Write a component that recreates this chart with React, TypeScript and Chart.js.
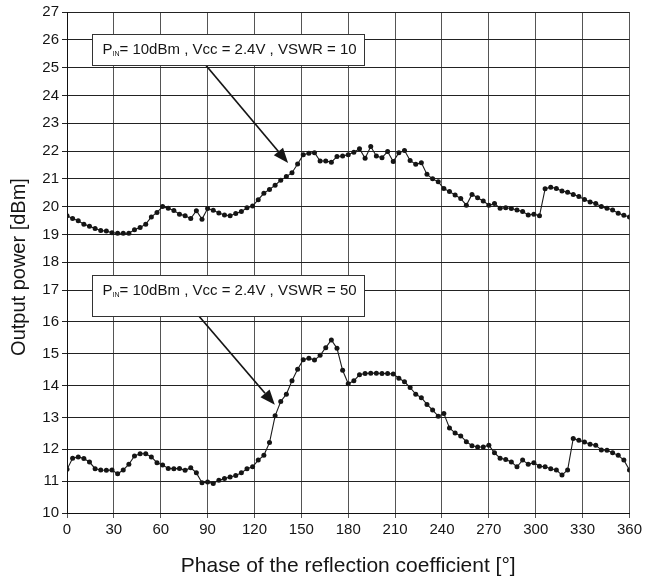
import React, { useEffect, useRef } from 'react';
import { Chart, registerables } from 'chart.js';

Chart.register(...registerables);

// Phase of the reflection coefficient [°]
const phaseDeg: number[] = [
  0, 3.6, 7.2, 10.8, 14.4, 18, 21.6, 25.2, 28.8, 32.4, 36, 39.6, 43.2, 46.8, 50.4, 54, 57.6, 61.2, 64.8, 68.4,
  72, 75.6, 79.2, 82.8, 86.4, 90, 93.6, 97.2, 100.8, 104.4, 108, 111.6, 115.2, 118.8, 122.4, 126, 129.6, 133.2, 136.8, 140.4,
  144, 147.6, 151.2, 154.8, 158.4, 162, 165.6, 169.2, 172.8, 176.4, 180, 183.6, 187.2, 190.8, 194.4, 198, 201.6, 205.2, 208.8, 212.4,
  216, 219.6, 223.2, 226.8, 230.4, 234, 237.6, 241.2, 244.8, 248.4, 252, 255.6, 259.2, 262.8, 266.4, 270, 273.6, 277.2, 280.8, 284.4,
  288, 291.6, 295.2, 298.8, 302.4, 306, 309.6, 313.2, 316.8, 320.4, 324, 327.6, 331.2, 334.8, 338.4, 342, 345.6, 349.2, 352.8, 356.4,
  360,
];

// Output power [dBm], VSWR = 10
const outputVswr10: number[] = [
  19.67, 19.57, 19.49, 19.37, 19.29, 19.21, 19.14, 19.12, 19.06, 19.04, 19.04, 19.04, 19.17, 19.25, 19.37, 19.63, 19.79, 20.0, 19.94, 19.86,
  19.73, 19.67, 19.57, 19.85, 19.55, 19.93, 19.87, 19.77, 19.70, 19.67, 19.75, 19.82, 19.96, 20.02, 20.25, 20.48, 20.62, 20.77, 20.95, 21.08,
  21.22, 21.53, 21.87, 21.92, 21.94, 21.64, 21.64, 21.60, 21.80, 21.82, 21.87, 21.96, 22.08, 21.74, 22.16, 21.82, 21.76, 21.98, 21.62, 21.94,
  22.02, 21.66, 21.52, 21.58, 21.16, 21.0, 20.89, 20.65, 20.54, 20.42, 20.29, 20.05, 20.44, 20.32, 20.20, 20.05, 20.11, 19.94, 19.96, 19.93,
  19.88, 19.82, 19.70, 19.73, 19.67, 20.64, 20.70, 20.65, 20.56, 20.52, 20.44, 20.36, 20.26, 20.17, 20.11, 20.0, 19.94, 19.88, 19.76, 19.69,
  19.63,
];

// Output power [dBm], VSWR = 50
const outputVswr50: number[] = [
  11.37, 11.72, 11.76, 11.71, 11.60, 11.39, 11.35, 11.34, 11.35, 11.23, 11.35, 11.53, 11.79, 11.86, 11.86, 11.76, 11.58, 11.51, 11.40, 11.39,
  11.40, 11.34, 11.42, 11.26, 10.95, 10.97, 10.93, 11.03, 11.08, 11.13, 11.18, 11.26, 11.39, 11.45, 11.66, 11.81, 12.21, 13.05, 13.50, 13.73,
  14.15, 14.51, 14.81, 14.86, 14.80, 14.95, 15.19, 15.43, 15.17, 14.48, 14.06, 14.15, 14.34, 14.38, 14.39, 14.39, 14.38, 14.38, 14.36, 14.23,
  14.12, 13.94, 13.73, 13.62, 13.41, 13.23, 13.04, 13.12, 12.67, 12.51, 12.42, 12.24, 12.11, 12.07, 12.07, 12.13, 11.89, 11.72, 11.68, 11.60,
  11.45, 11.66, 11.53, 11.58, 11.47, 11.45, 11.39, 11.35, 11.19, 11.35, 12.34, 12.28, 12.23, 12.16, 12.13, 11.98, 11.97, 11.89, 11.81, 11.66,
  11.35,
];

const xTickValues: number[] = [0, 30, 60, 90, 120, 150, 180, 210, 240, 270, 300, 330, 360];
const yUpperRange: number[] = [17, 27];
const yLowerRange: number[] = [10, 17];

const xTitle = 'Phase of the reflection coefficient [°]';
const yTitle = 'Output power [dBm]';
const labelMain = 'P';
const labelSub = 'IN';
const labelRest: string[] = ['= 10dBm , Vcc = 2.4V , VSWR = 10', '= 10dBm , Vcc = 2.4V , VSWR = 50'];

const FONT = "'Liberation Sans', Arial, sans-serif";
const INK = '#151515';

// annotation anchors, in data units (x: degrees, y: dBm on the given axis)
const annotations = [
  { axis: 'yHigh', x0: 16, x1: 190.4, yTop: 26.22, yBot: 25.1, yText: 25.64, from: [88.6, 25.1], to: [141.5, 21.57], text: labelRest[0] },
  { axis: 'yLow', x0: 16, x1: 190.4, yTop: 17.46, yBot: 16.2, yText: 16.98, from: [84.1, 16.2], to: [133, 13.4], text: labelRest[1] },
];

const annotationPlugin = {
  id: 'boxesAndArrows',
  afterDatasetsDraw(chart: any) {
    const ctx: CanvasRenderingContext2D = chart.ctx;
    const xs = chart.scales.x;
    ctx.save();
    for (const a of annotations) {
      const ys = chart.scales[a.axis];
      const ax0 = xs.getPixelForValue(a.from[0]);
      const ay0 = ys.getPixelForValue(a.from[1]);
      const ax1 = xs.getPixelForValue(a.to[0]);
      const ay1 = ys.getPixelForValue(a.to[1]);
      const ang = Math.atan2(ay1 - ay0, ax1 - ax0);
      const headLen = 15;
      const headW = 6;
      const bx = ax1 - headLen * Math.cos(ang);
      const by = ay1 - headLen * Math.sin(ang);
      ctx.strokeStyle = INK;
      ctx.fillStyle = INK;
      ctx.lineWidth = 1.7;
      ctx.beginPath();
      ctx.moveTo(ax0, ay0);
      ctx.lineTo(bx, by);
      ctx.stroke();
      ctx.beginPath();
      ctx.moveTo(ax1, ay1);
      ctx.lineTo(bx + headW * Math.sin(ang), by - headW * Math.cos(ang));
      ctx.lineTo(bx - headW * Math.sin(ang), by + headW * Math.cos(ang));
      ctx.closePath();
      ctx.fill();

      const px0 = Math.round(xs.getPixelForValue(a.x0)) + 0.5;
      const px1 = Math.round(xs.getPixelForValue(a.x1)) + 0.5;
      const pyT = Math.round(ys.getPixelForValue(a.yTop)) + 0.5;
      const pyB = Math.round(ys.getPixelForValue(a.yBot)) + 0.5;
      ctx.fillStyle = '#ffffff';
      ctx.fillRect(px0, pyT, px1 - px0, pyB - pyT);
      ctx.strokeStyle = '#333333';
      ctx.lineWidth = 1;
      ctx.strokeRect(px0, pyT, px1 - px0, pyB - pyT);

      const ty = ys.getPixelForValue(a.yText);
      let tx = px0 + 10;
      ctx.fillStyle = INK;
      ctx.textBaseline = 'middle';
      ctx.textAlign = 'left';
      ctx.font = `15px ${FONT}`;
      ctx.fillText(labelMain, tx, ty);
      tx += ctx.measureText(labelMain).width;
      ctx.font = `7px ${FONT}`;
      ctx.fillText(labelSub, tx, ty + 4);
      tx += ctx.measureText(labelSub).width;
      ctx.font = `15px ${FONT}`;
      ctx.fillText(a.text, tx, ty);
    }
    ctx.restore();
  },
  afterDraw(chart: any) {
    const ctx: CanvasRenderingContext2D = chart.ctx;
    ctx.save();
    ctx.translate(19, 267);
    ctx.rotate(-Math.PI / 2);
    ctx.fillStyle = INK;
    ctx.font = `20px ${FONT}`;
    ctx.textAlign = 'center';
    ctx.textBaseline = 'middle';
    ctx.fillText(yTitle, 0, 0);
    ctx.restore();
  },
};

export default function App() {
  const canvasRef = useRef<HTMLCanvasElement | null>(null);

  useEffect(() => {
    if (!canvasRef.current) return;
    const lineStyle = {
      borderColor: '#1a1a1a',
      borderWidth: 1.1,
      pointRadius: 2.5,
      pointBorderWidth: 0,
      pointBackgroundColor: '#151515',
      pointHoverRadius: 2.5,
      tension: 0,
    };
    const chart = new Chart(canvasRef.current, {
      type: 'line',
      data: {
        datasets: [
          {
            label: 'VSWR = 10',
            data: phaseDeg.map((x, i) => ({ x, y: outputVswr10[i] })),
            yAxisID: 'yHigh',
            ...lineStyle,
          },
          {
            label: 'VSWR = 50',
            data: phaseDeg.map((x, i) => ({ x, y: outputVswr50[i] })),
            yAxisID: 'yLow',
            ...lineStyle,
          },
        ],
      },
      options: {
        responsive: false,
        animation: false,
        devicePixelRatio: 1,
        layout: { padding: { left: 0, right: 14, top: 12, bottom: 0 } },
        plugins: { legend: { display: false }, tooltip: { enabled: false } },
        scales: {
          x: {
            type: 'linear',
            min: xTickValues[0],
            max: xTickValues[xTickValues.length - 1],
            afterBuildTicks: (scale: any) => {
              scale.ticks = xTickValues.map((v) => ({ value: v }));
            },
            ticks: { color: INK, font: { family: FONT, size: 15 }, padding: 3, maxRotation: 0, autoSkip: false },
            grid: { color: '#555555', lineWidth: 1, tickLength: 5 },
            border: { color: '#111', width: 1 },
            title: { display: true, text: xTitle, color: INK, font: { family: FONT, size: 21 }, padding: { top: 0, bottom: 3 } },
            afterFit: (scale: any) => {
              scale.height = 69;
            },
          },
          yLow: {
            type: 'linear',
            position: 'left',
            stack: 'power',
            stackWeight: (yLowerRange[1] - yLowerRange[0]) * 31.85,
            min: yLowerRange[0],
            max: yLowerRange[1],
            ticks: { stepSize: 1, autoSkip: false, color: INK, font: { family: FONT, size: 15 }, padding: 3 },
            grid: { color: '#222', lineWidth: 1, tickLength: 5 },
            border: { color: '#111', width: 1 },
            afterFit: (scale: any) => {
              scale.width = 67;
            },
          },
          yHigh: {
            type: 'linear',
            position: 'left',
            stack: 'power',
            stackWeight: (yUpperRange[1] - yUpperRange[0]) * 27.8,
            min: yUpperRange[0],
            max: yUpperRange[1],
            ticks: {
              stepSize: 1,
              autoSkip: false,
              color: INK,
              font: { family: FONT, size: 15 },
              padding: 3,
              callback: (v: any) => (v === yUpperRange[0] ? '' : String(v)),
            },
            grid: { color: '#222', lineWidth: 1, tickLength: 5 },
            border: { color: '#111', width: 1 },
            afterFit: (scale: any) => {
              scale.width = 67;
            },
          },
        },
      },
      plugins: [annotationPlugin],
    } as any);
    return () => chart.destroy();
  }, []);

  return (
    <div style={{ position: 'absolute', left: 0, top: 0, width: 645, height: 582, background: '#fff' }}>
      <canvas ref={canvasRef} width={645} height={582} style={{ display: 'block' }} />
    </div>
  );
}
